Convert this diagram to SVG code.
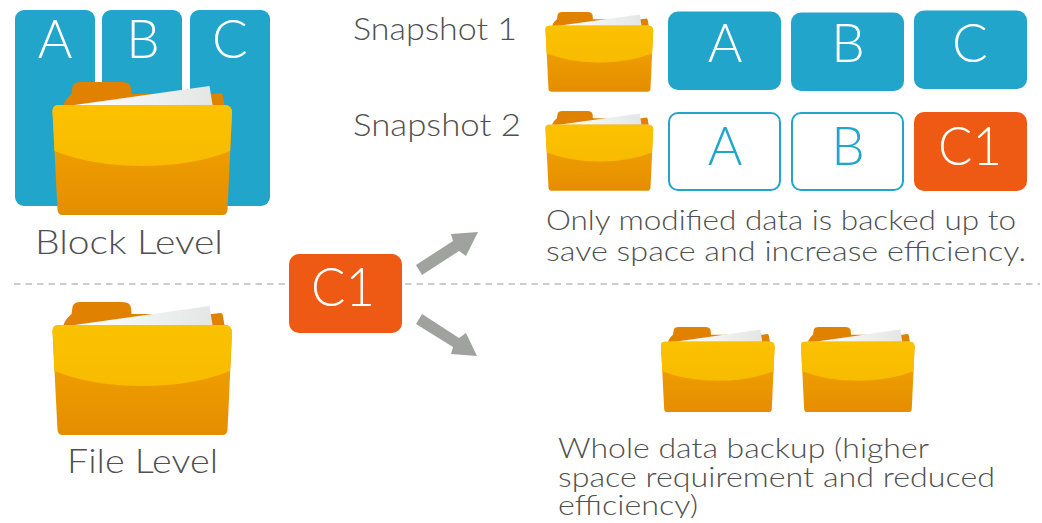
<svg xmlns="http://www.w3.org/2000/svg" width="1042" height="523" viewBox="0 0 1042 523">
<style>
text{font-family:"Lato","Liberation Sans",sans-serif;font-weight:300}
.blue{fill:#22a5cb}
.out{fill:#fff;stroke:#22a5cb;stroke-width:2}
.org{fill:#ee5913}
.lt{fill:#fff;font-size:53px;text-anchor:middle}
.bt{fill:#22a5cb;font-size:53px;text-anchor:middle}
.gt{fill:#505050;font-size:34px}
.dt{fill:#505050;font-size:27.5px}
.arrow{fill:#a0a2a0}
</style>
<defs>
<clipPath id="pageclip"><rect x="0" y="0" width="1042" height="518"/></clipPath>
<linearGradient id="fy" x1="0" y1="0" x2="0" y2="1"><stop offset="0" stop-color="#fbc200"/><stop offset="1" stop-color="#f8bb00"/></linearGradient>
<linearGradient id="fo" x1="0" y1="0" x2="0" y2="1"><stop offset="0" stop-color="#f4a900"/><stop offset="1" stop-color="#e58d00"/></linearGradient>
<linearGradient id="pp" x1="0" y1="0" x2="1" y2="0"><stop offset="0" stop-color="#ffffff"/><stop offset="1" stop-color="#e4e5e5"/></linearGradient>
<g id="folder">
<path d="M11 23 C13 17 17 14 19 12 L20 5 Q21 0 28 0 L70 0 Q78 0 78.500 6 L79 12 L160 12 L168 11 Q170 11 170.500 14 L172 23 Z" fill="#e08200"/>
<path d="M22 23 L157 4 L160 23 Z" fill="url(#pp)"/>
<path d="M0 29 Q0 23 6 23 L172 23 Q179.500 23 179.500 31 L175 128 Q174.500 133 170 133 L10 133 Q5.500 133 5 128 Z" fill="url(#fo)"/>
<path d="M0 29 Q0 23 6 23 L172 23 Q179.500 23 179.500 31 L177.500 69 Q140 84 90 84 Q40 84 2 69 Z" fill="url(#fy)"/>
</g>
</defs>

<line x1="14" y1="284" x2="1040" y2="284" stroke="#bdbdbd" stroke-width="1.500" stroke-dasharray="6.500 5"/>

<g id="connectors">
<path class="arrow" d="M416 265 L422 275 L459 251 L466 256 L478 232 L451 234 L453 241 Z"/>
<path class="arrow" d="M416 324 L422 314 L459 338 L466 333 L477 356 L451 354 L453 347 Z"/>
</g>

<g id="block-a"><rect class="blue" x="15" y="10" width="80" height="196" rx="9"/><text class="lt" x="55" y="58">A</text></g>
<g id="block-b"><rect class="blue" x="102" y="10" width="80" height="196" rx="9"/><text class="lt" x="143" y="58">B</text></g>
<g id="block-c"><rect class="blue" x="190" y="10" width="80" height="196" rx="9"/><text class="lt" x="230" y="58">C</text></g>
<g id="block-folder"><use href="#folder" transform="translate(52.500 82)"/></g>
<g id="block-label"><text class="gt" x="35" y="254" textLength="188" lengthAdjust="spacingAndGlyphs">Block Level</text></g>

<g id="file-folder"><use href="#folder" transform="translate(52.500 302)"/></g>
<g id="file-label"><text class="gt" x="67" y="473" textLength="151" lengthAdjust="spacingAndGlyphs">File Level</text></g>

<g id="c1"><rect class="org" x="289" y="254" width="113" height="79" rx="10"/><text class="lt" x="343" y="306" textLength="64" lengthAdjust="spacingAndGlyphs">C1</text></g>

<g id="snapshot1-label"><text class="dt" x="353" y="40" textLength="164" lengthAdjust="spacingAndGlyphs" style="font-size:31px">Snapshot 1</text></g>
<g id="snapshot2-label"><text class="dt" x="353" y="136" textLength="168" lengthAdjust="spacingAndGlyphs" style="font-size:31px">Snapshot 2</text></g>

<g id="s1-folder"><use href="#folder" transform="translate(545.500 12) scale(.6)"/></g>
<g id="s1-a"><rect class="blue" x="668" y="11.500" width="113" height="78.500" rx="10"/><text class="lt" x="725" y="62">A</text></g>
<g id="s1-b"><rect class="blue" x="791" y="12.500" width="113" height="78.500" rx="10"/><text class="lt" x="848" y="62">B</text></g>
<g id="s1-c"><rect class="blue" x="914" y="10.500" width="113" height="78.500" rx="10"/><text class="lt" x="970" y="62">C</text></g>

<g id="s2-folder"><use href="#folder" transform="translate(545.500 111) scale(.6)"/></g>
<g id="s2-a"><rect class="out" x="669" y="113" width="111" height="77" rx="9"/><text class="bt" x="725" y="165">A</text></g>
<g id="s2-b"><rect class="out" x="792" y="113" width="111" height="77" rx="9"/><text class="bt" x="848" y="165">B</text></g>
<g id="s2-c1"><rect class="org" x="914" y="112" width="113" height="79" rx="10"/><text class="lt" x="970" y="165" textLength="64" lengthAdjust="spacingAndGlyphs">C1</text></g>

<g id="note-top">
<text class="dt" x="546" y="230" textLength="470" lengthAdjust="spacingAndGlyphs">Only modified data is backed up to</text>
<text class="dt" x="546" y="261" textLength="480" lengthAdjust="spacingAndGlyphs">save space and increase efficiency.</text>
</g>

<g id="bk-folder-1"><use href="#folder" transform="translate(661 327) scale(.633 .64)"/></g>
<g id="bk-folder-2"><use href="#folder" transform="translate(801 327) scale(.633 .64)"/></g>

<g id="note-bottom" clip-path="url(#pageclip)">
<text class="dt" x="558" y="458" textLength="371" lengthAdjust="spacingAndGlyphs">Whole data backup (higher</text>
<text class="dt" x="558" y="487" textLength="437" lengthAdjust="spacingAndGlyphs">space requirement and reduced</text>
<text class="dt" x="558" y="515" textLength="140" lengthAdjust="spacingAndGlyphs">efficiency)</text>
</g>
</svg>
